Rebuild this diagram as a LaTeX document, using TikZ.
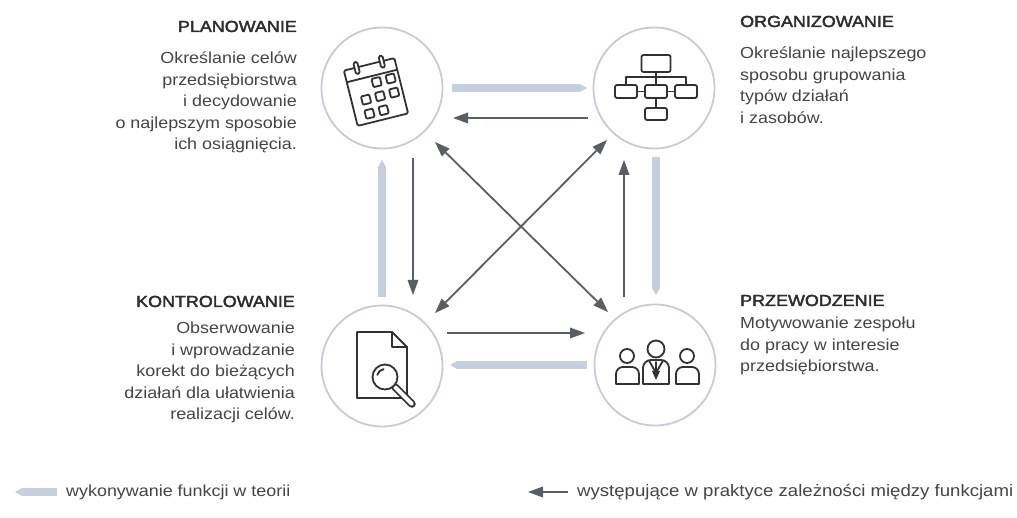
\documentclass[tikz,border=0pt]{standalone}
\usepackage{fontspec}
\setmainfont{Liberation Sans}[FakeStretch=1.12]
\newfontfamily\ttlfont{Liberation Sans}[FakeStretch=1.12, FakeBold=2.5]
\usetikzlibrary{arrows.meta,calc}
\definecolor{ringc}{RGB}{200,202,216}
\definecolor{lightc}{RGB}{198,207,222}
\definecolor{darkc}{RGB}{88,93,104}
\definecolor{iconc}{RGB}{50,50,52}
\definecolor{titlec}{RGB}{45,45,45}
\definecolor{bodyc}{RGB}{68,68,68}
\begin{document}
\begin{tikzpicture}[x=1pt,y=-1pt,
  ring/.style={circle, draw=ringc, line width=1.8pt, minimum size=121pt, inner sep=0pt},
  theory/.style={draw=lightc, line width=8pt, -{Triangle[length=7pt,width=8pt,line width=0pt]}},
  practice/.style={draw=darkc, line width=1.8pt, -{Triangle[length=15pt,width=11pt,line width=0pt]}},
  both/.style={draw=darkc, line width=1.8pt, {Triangle[length=15pt,width=11pt,line width=0pt]}-{Triangle[length=15pt,width=11pt,line width=0pt]}},
  ttl/.style={font=\fontsize{16}{21.5}\selectfont\ttlfont, text=titlec, inner sep=0pt},
  bodytxt/.style={font=\fontsize{16}{21.5}\selectfont, text=bodyc, inner sep=0pt},
  legendtxt/.style={font=\fontsize{16}{21.5}\selectfont, text=bodyc, inner sep=0pt},
  icon/.style={draw=iconc, line width=1.8pt, line join=round, line cap=round}
]
\useasboundingbox (0,0) rectangle (1017,518);

% circles
\node[ring] (P) at (382,88) {};
\node[ring] (O) at (654,88) {};
\node[ring] (K) at (382,366) {};
\node[ring] (R) at (655,365) {};

% texts
\node[ttl, anchor=base east] (tP) at (297,32) {PLANOWANIE};
\node[bodytxt, anchor=base east] (bP) at (297,64) {\begin{tabular}[t]{@{}r@{}}Określanie celów\\przedsiębiorstwa\\i decydowanie\\o najlepszym sposobie\\ich osiągnięcia.\end{tabular}};

\node[ttl, anchor=base west] (tO) at (740,27) {ORGANIZOWANIE};
\node[bodytxt, anchor=base west] (bO) at (740,59) {\begin{tabular}[t]{@{}l@{}}Określanie najlepszego\\sposobu grupowania\\typów działań\\i zasobów.\end{tabular}};

\node[ttl, anchor=base east] (tK) at (295,307) {KONTROLOWANIE};
\node[bodytxt, anchor=base east] (bK) at (295,334) {\begin{tabular}[t]{@{}r@{}}Obserwowanie\\i wprowadzanie\\korekt do bieżących\\działań dla ułatwienia\\realizacji celów.\end{tabular}};

\node[ttl, anchor=base west] (tR) at (740,306) {PRZEWODZENIE};
\node[bodytxt, anchor=base west] (bR) at (740,329) {\begin{tabular}[t]{@{}l@{}}Motywowanie zespołu\\do pracy w interesie\\przedsiębiorstwa.\end{tabular}};

% theory arrows (light)
\draw[theory] ($(P)+(70,0)$) -- ($(O)+(-67,0)$);
\draw[theory] ($(O)+(2,69)$) -- ($(R)+(1,-70)$);
\draw[theory] ($(R)+(-68,0)$) -- ($(K)+(68,-1)$);
\draw[theory] ($(K)+(0,-69)$) -- ($(P)+(0,72)$);

% practice arrows (dark)
\draw[practice] ($(O)+(-66,30)$) -- ($(P)+(71,30)$);
\draw[practice] ($(P)+(31,70)$) -- ($(K)+(31,-71)$);
\draw[practice] ($(K)+(65,-33)$) -- ($(R)+(-70,-32)$);
\draw[practice] ($(R)+(-31,-68)$) -- ($(O)+(-30,72)$);
\draw[both] ($(P)+(53,54)$) -- ($(R)+(-47,-53)$);
\draw[both] ($(O)+(-47,52)$) -- ($(K)+(53,-53)$);

% calendar icon
\begin{scope}[shift={($(P)+(-6,4)$)}, rotate=14]
  \draw[icon, rounded corners=1.5pt] (-26,-28.5) rectangle (26,28.5);
  \draw[icon] (-26,-16.5) -- (26,-16.5);
  \draw[icon, fill=white, rounded corners=1.5pt] (-15,-34) rectangle (-11,-22);
  \draw[icon, fill=white, rounded corners=1.5pt] (11,-34) rectangle (15,-22);
  \foreach \c/\r in {0/-1,1/-1,-1/0,0/0,1/0,-1/1,0/1}
    \draw[icon, rounded corners=1pt] ({3+14.5*\c-4.25},{5+14.5*\r-4.25}) rectangle ++(8.5,8.5);
\end{scope}

% org chart icon
\begin{scope}[shift={(O)}]
  \draw[icon, rounded corners=2pt] (-12.5,-33) rectangle (16.5,-16);
  \draw[icon] (2,-16) -- (2,-11);
  \draw[icon] (-28,-3) -- (-28,-11) -- (32,-11) -- (32,-3);
  \draw[icon] (2,-11) -- (2,-3);
  \draw[icon, rounded corners=2pt] (-39,-3) rectangle (-17,10);
  \draw[icon, rounded corners=2pt] (-9,-3) rectangle (13,10);
  \draw[icon, rounded corners=2pt] (21,-3) rectangle (43,10);
  \draw[icon] (-17,3.5) -- (-9,3.5);
  \draw[icon] (13,3.5) -- (21,3.5);
  \draw[icon] (2,10) -- (2,20);
  \draw[icon, rounded corners=2pt] (-9,20) rectangle (13,32);
\end{scope}

% document with magnifier icon
\begin{scope}[shift={(K)}]
  \draw[icon] (-25,-34) -- (10,-34) -- (25,-19) -- (25,32) -- (-25,32) -- cycle;
  \draw[icon] (10,-34) -- (10,-19) -- (25,-19);
  \draw[iconc, line width=7.5pt, line cap=round] (13,21) -- (30,38);
  \draw[white, line width=3.9pt, line cap=round] (13,21) -- (30,38);
  \draw[icon, fill=white] (3,11) circle[radius=12.5];
  \draw[icon] (3,11) ++(195:8) arc[start angle=195, end angle=260, radius=8];
\end{scope}

% people icon
\begin{scope}[shift={(R)}]
  \draw[icon] (1,-16) circle[radius=8.5];
  \draw[icon] (-12,19) -- (-12,3) arc[start angle=180, end angle=270, radius=8] -- (6,-5) arc[start angle=270, end angle=360, radius=8] -- (14,19) -- cycle;
  \draw[icon] (-6,-4.5) -- (1,8);
  \draw[icon] (8,-4.5) -- (1,8);
  \draw[icon] (1,-3) -- (1,8);
  \fill[iconc] (-3,6) -- (5,6) -- (1,15) -- cycle;
  \draw[icon] (-28,-9) circle[radius=7];
  \draw[icon] (-39,19) -- (-39,9) arc[start angle=180, end angle=270, radius=7] -- (-23,2) arc[start angle=270, end angle=360, radius=7] -- (-16,19) -- cycle;
  \draw[icon] (32,-9) circle[radius=7];
  \draw[icon] (21,19) -- (21,9) arc[start angle=180, end angle=270, radius=7] -- (37,2) arc[start angle=270, end angle=360, radius=7] -- (44,19) -- cycle;
\end{scope}

% legend
\node[legendtxt, anchor=west] (l1) at (66,492) {wykonywanie funkcji w teorii};
\draw[theory] ([xshift=-9pt]l1.west) -- ([xshift=-51pt]l1.west);
\node[legendtxt, anchor=west, font=\fontsize{16.6}{21.5}\selectfont] (l2) at (577,492) {występujące w praktyce zależności między funkcjami};
\draw[practice] ([xshift=-9pt]l2.west) -- ([xshift=-49pt]l2.west);
\end{tikzpicture}
\end{document}
